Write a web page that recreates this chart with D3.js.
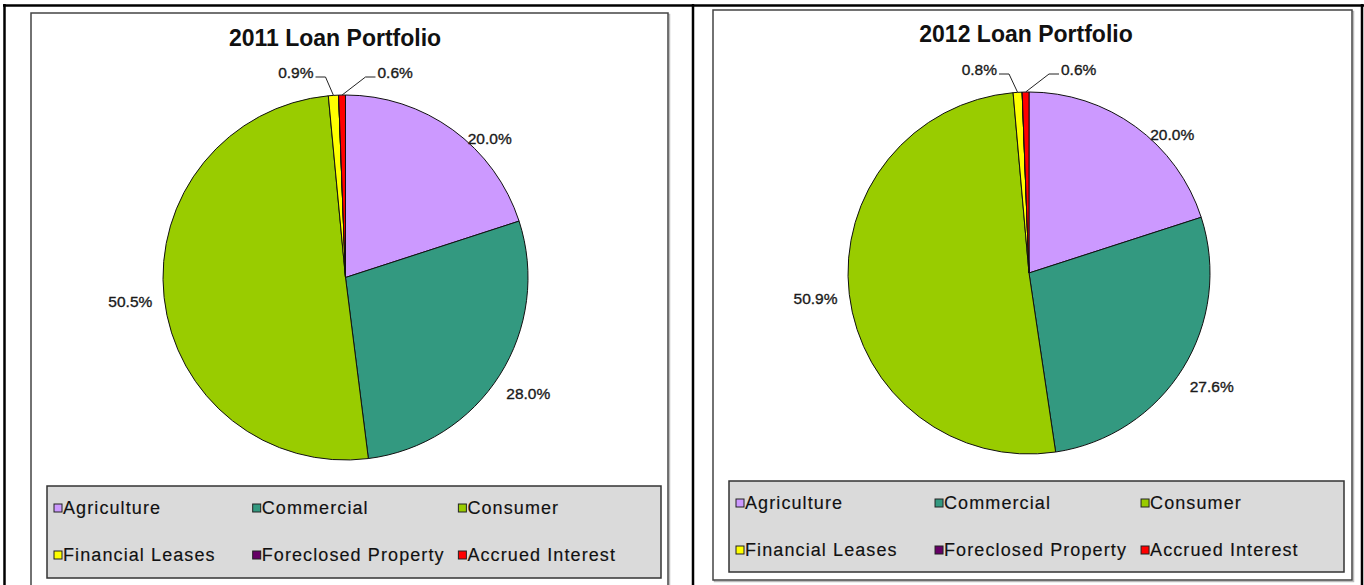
<!DOCTYPE html>
<html>
<head>
	<meta charset="utf-8">
	<style>
		body { margin: 0; background: #fff; }
		svg { display: block; font-family: "Liberation Sans", Arial, sans-serif; }
		.slice { stroke: #111; stroke-width: 1; }
		.pct { font-size: 15.5px; fill: #1a1a1a; stroke: #1a1a1a; stroke-width: 0.35px; }
		.leg text { font-size: 18px; letter-spacing: 1.1px; fill: #111; stroke: #111; stroke-width: 0.15px; }
	</style>
	<script src="https://cdn.jsdelivr.net/npm/d3@7"></script>
</head>
<body>
<div id="chart"></div>
<script>
	// data
	const categories = ["Agriculture", "Commercial", "Consumer", "Financial Leases", "Foreclosed Property", "Accrued Interest"];
	const sliceColors = ["#cc99ff", "#339980", "#99cc00", "#ffff00", "#660066", "#ff0000"];
	const values2011 = [20.0, 28.0, 50.5, 0.9, 0.0, 0.6];
	const values2012 = [20.0, 27.6, 50.9, 0.8, 0.0, 0.6];
	const titles = ["2011 Loan Portfolio", "2012 Loan Portfolio"];

	const W = 1364, H = 585;
	const svg = d3.select("#chart").append("svg").attr("width", W).attr("height", H);

	// outer table frame
	const frame = svg.append("g").attr("stroke", "#000").attr("stroke-width", 2.5);
	frame.append("line").attr("x1", 3).attr("x2", 1364).attr("y1", 5.5).attr("y2", 5.5);
	frame.append("line").attr("x1", 4.5).attr("x2", 4.5).attr("y1", 4).attr("y2", H);
	frame.append("line").attr("x1", 693).attr("x2", 693).attr("y1", 4).attr("y2", H);
	frame.append("line").attr("x1", 1362).attr("x2", 1362).attr("y1", 4).attr("y2", H);

	const panels = [
		{ values: values2011, title: titles[0], box: [31, 13, 637, 600], cx: 345.5, cy: 277.5, r: 182.5, titleX: 335, titleY: 46, leg: [47, 486, 614, 92] },
		{ values: values2012, title: titles[1], box: [713, 10, 639, 570], cx: 1029, cy: 273, r: 181, titleX: 1026, titleY: 42, leg: [729, 481, 615, 91] }
	];

	const color = d3.scaleOrdinal().domain(categories).range(sliceColors);
	const pie = d3.pie().sort(null).value(d => d.v);

	// the Agriculture label sits further round than its slice middle in the source
	const labelNudge = { Agriculture: { da: 10 * Math.PI / 180, dr: -16 } };

	panels.forEach(p => {
		const g = svg.append("g");
		const [bx, by, bw, bh] = p.box;
		// chart area with a soft shadow edge
		g.append("rect").attr("x", bx + 1.5).attr("y", by + 1.5).attr("width", bw).attr("height", bh)
			.attr("fill", "none").attr("stroke", "#bbb").attr("stroke-width", 1.5);
		g.append("rect").attr("x", bx).attr("y", by).attr("width", bw).attr("height", bh)
			.attr("fill", "#fff").attr("stroke", "#444").attr("stroke-width", 1.5);

		g.append("text").attr("x", p.titleX).attr("y", p.titleY).attr("text-anchor", "middle")
			.style("font-size", "23px").style("font-weight", "bold").attr("fill", "#111").text(p.title);

		const data = categories.map((c, i) => ({ c: c, v: p.values[i] }));
		const arcs = pie(data);
		const arc = d3.arc().innerRadius(0).outerRadius(p.r);

		const pg = g.append("g").attr("transform", `translate(${p.cx},${p.cy})`);
		pg.selectAll("path").data(arcs).enter().append("path")
			.attr("class", "slice").attr("d", arc).attr("fill", d => color(d.data.c));

		// labels: big slices outside at mid angle, small ones on leader lines above
		const shown = arcs.filter(d => d.data.v > 0);
		const last = shown[shown.length - 1];
		shown.forEach(d => {
			let a = (d.startAngle + d.endAngle) / 2;
			const txt = d3.format(".1f")(d.data.v) + "%";
			if (d.data.v >= 2) {
				const n = labelNudge[d.data.c] || { da: 0, dr: 0 };
				a += n.da;
				const R = p.r + 34 + n.dr;
				pg.append("text").attr("class", "pct")
					.attr("x", R * Math.sin(a)).attr("y", -R * Math.cos(a))
					.attr("text-anchor", "middle").attr("dy", "0.35em").text(txt);
			} else {
				const side = d === last ? 1 : -1;
				const ex = p.r * Math.sin(a), ey = -p.r * Math.cos(a);
				const ky = -p.r - 18;
				pg.append("polyline")
					.attr("points", [[ex, ey], [side * 20, ky], [side * 30, ky]].map(q => q.join(",")).join(" "))
					.attr("fill", "none").attr("stroke", "#222").attr("stroke-width", 1);
				pg.append("text").attr("class", "pct")
					.attr("x", side * 32).attr("y", ky).attr("dy", "0.05em")
					.attr("text-anchor", side > 0 ? "start" : "end").text(txt);
			}
		});

		// legend
		const [lx, ly, lw, lh] = p.leg;
		const leg = g.append("g").attr("class", "leg");
		leg.append("rect").attr("x", lx).attr("y", ly).attr("width", lw).attr("height", lh)
			.attr("fill", "#dadada").attr("stroke", "#333").attr("stroke-width", 1.5);
		const colX = [7, lw * 0.335, lw * 0.67];
		const rowY = [22, 69];
		categories.forEach((c, i) => {
			const x = lx + colX[i % 3], y = ly + rowY[Math.floor(i / 3)];
			leg.append("rect").attr("x", x).attr("y", y - 4).attr("width", 8).attr("height", 8)
				.attr("fill", color(c)).attr("stroke", "#222").attr("stroke-width", 1);
			leg.append("text").attr("x", x + 9).attr("y", y).attr("dy", "0.36em").text(c);
		});
	});
</script>
</body>
</html>
